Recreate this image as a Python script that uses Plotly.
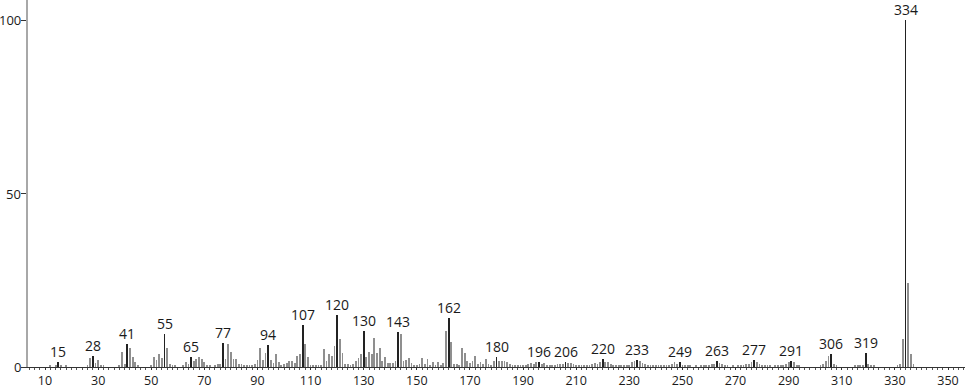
import plotly.graph_objects as go

# m/z values and relative intensities
mz = [12, 14, 15, 16, 18, 26, 27, 28, 29, 30, 31, 32,
      38, 39, 40, 41, 42, 43, 44, 45,
      50, 51, 52, 53, 54, 55, 56, 57, 58, 59,
      62, 63, 64, 65, 66, 67, 68, 69, 70, 71, 72,
      74, 75, 76, 77, 78, 79, 80, 81, 82, 83, 84, 85, 86, 87, 88, 89,
      90, 91, 92, 93, 94, 95, 96, 97, 98, 99, 100,
      101, 102, 103, 104, 105, 106, 107, 108, 109, 110, 111, 112, 113,
      114, 115, 116, 117, 118, 119, 120, 121, 122, 123, 124, 125,
      126, 127, 128, 129, 130, 131, 132, 133, 134, 135, 136, 137, 138, 139,
      140, 141, 142, 143, 144, 145, 146, 147, 148, 149,
      150, 151, 152, 153, 154, 155, 156, 157, 158, 159, 160, 161, 162, 163,
      164, 165, 166, 167, 168, 169, 170, 171, 172, 173, 174, 175, 176, 177,
      178, 179, 180, 181, 182, 183, 184, 185, 186, 187, 188, 189,
      190, 191, 192, 193, 194, 195, 196, 197, 198, 199, 200, 201, 202, 203,
      204, 205, 206, 207, 208, 209, 210, 211, 212, 213, 214, 215, 216, 217,
      218, 219, 220, 221, 222, 223, 224, 225, 226, 227, 228, 229, 230, 231,
      232, 233, 234, 235, 236, 237, 238, 239, 240, 241, 242, 243, 244, 245,
      246, 247, 248, 249, 250, 251, 252, 253, 255, 257, 258, 259, 260, 261,
      262, 263, 264, 265, 266, 267, 269, 271, 272, 273, 274, 275, 276, 277,
      278, 279, 280, 281, 282, 283, 285, 286, 287, 288, 289, 290, 291, 292,
      293, 294, 302, 303, 304, 305, 306, 307, 308, 315, 316, 317, 318, 319,
      320, 321, 322, 331, 332, 333, 334, 335, 336, 337]
intensity = [0.3, 0.5, 1.5, 0.3, 0.5, 0.5, 2.5, 3.3, 1.2, 2.0, 0.4, 0.3,
             0.4, 4.3, 0.8, 6.6, 5.5, 3.0, 1.5, 0.5,
             0.5, 2.9, 2.0, 3.7, 2.6, 9.5, 5.5, 1.0, 0.6, 0.3,
             0.4, 1.5, 0.8, 2.9, 1.7, 2.3, 2.8, 2.3, 1.3, 0.6, 0.3,
             0.4, 1.0, 1.0, 6.9, 2.3, 6.6, 4.3, 2.4, 2.4, 0.8, 0.8, 0.5, 0.5, 0.5, 0.4, 1.0,
             2.0, 5.5, 2.0, 4.1, 6.3, 2.0, 1.2, 3.7, 1.3, 0.6, 0.8,
             1.1, 1.7, 1.7, 1.2, 3.2, 3.7, 12.1, 6.6, 2.9, 0.6, 0.5, 0.5, 0.6,
             0.5, 5.2, 1.7, 3.7, 3.2, 6.1, 15.0, 8.0, 4.1, 0.8, 0.8, 0.6,
             1.0, 1.8, 2.7, 3.7, 10.5, 2.9, 4.4, 3.7, 8.3, 4.1, 5.4, 1.7, 2.9, 1.1,
             1.1, 1.1, 1.7, 10.2, 9.5, 1.7, 2.0, 2.7, 1.1, 0.5,
             0.6, 0.8, 2.5, 0.8, 2.2, 0.6, 1.5, 0.5, 1.5, 0.6, 1.1, 10.5, 14.1, 7.3,
             0.9, 0.9, 0.4, 5.4, 4.1, 1.8, 1.1, 1.7, 3.2, 1.0, 1.5, 0.8, 2.3, 1.0,
             0.7, 1.8, 2.9, 1.8, 1.8, 1.8, 1.5, 1.0, 0.5, 0.5, 0.3, 0.4,
             0.5, 0.6, 1.0, 1.2, 0.8, 1.4, 1.5, 1.0, 1.1, 0.6, 0.4, 0.5, 0.5, 0.9,
             1.0, 0.8, 1.4, 1.2, 1.2, 0.9, 0.6, 0.4, 0.3, 0.3, 0.5, 0.7, 0.9, 1.2,
             1.0, 1.5, 2.2, 1.4, 1.5, 1.0, 0.5, 0.3, 0.3, 0.3, 0.3, 0.5, 0.6, 1.4,
             1.8, 2.0, 1.8, 1.2, 0.8, 0.5, 0.3, 0.5, 0.3, 0.4, 0.3, 0.5, 0.6, 0.7,
             0.8, 1.3, 0.8, 1.5, 0.7, 0.4, 0.3, 0.3, 0.3, 0.3, 0.4, 0.5, 0.6, 0.8,
             1.0, 1.8, 1.2, 0.8, 0.4, 0.3, 0.3, 0.3, 0.4, 0.7, 0.8, 1.0, 1.5, 2.0,
             1.3, 0.8, 0.5, 0.4, 0.3, 0.3, 0.3, 0.4, 0.5, 0.6, 1.0, 1.5, 1.8, 1.5,
             0.6, 0.3, 0.3, 1.0, 1.8, 3.2, 3.7, 1.0, 0.3, 0.3, 0.4, 0.4, 0.5, 3.9,
             1.0, 0.5, 0.3, 0.3, 1.0, 8.1, 100.0, 24.2, 3.8, 1.0]

# Peaks carrying an m/z label
labeled_mz = [15, 28, 41, 55, 65, 77, 94, 107, 120, 130, 143, 162, 180, 196,
              206, 220, 233, 249, 263, 277, 291, 306, 319, 334]

x_tickvals = list(range(10, 351, 20))
y_tickvals = [0, 50, 100]

FONT = "Open Sans"
TXT = "#1a1a1a"

lookup = dict(zip(mz, intensity))
lab_set = set(labeled_mz)
plain_x = [m for m in mz if m not in lab_set]
plain_y = [lookup[m] for m in plain_x]
lab_y = [lookup[m] for m in labeled_mz]

fig = go.Figure()
fig.add_trace(go.Bar(x=plain_x, y=plain_y, width=0.3,
                     marker=dict(color="#8f8f8f", line=dict(width=0)),
                     hoverinfo="x+y"))
fig.add_trace(go.Bar(x=labeled_mz, y=lab_y, width=0.3,
                     marker=dict(color="#222222", line=dict(width=0)),
                     hoverinfo="x+y"))

# peak labels
for m, v in zip(labeled_mz, lab_y):
    fig.add_annotation(x=m, y=v, xref="x", yref="y", text=str(m),
                       showarrow=False, yanchor="bottom", yshift=0,
                       borderpad=0,
                       font=dict(family=FONT, size=14, color=TXT))

# y tick labels (placed as annotations so "100" fits left of the axis)
for v in y_tickvals:
    fig.add_annotation(x=0, y=v, xref="paper", yref="y", text=str(v),
                       showarrow=False, xanchor="right", xshift=-5,
                       font=dict(family=FONT, size=13, color=TXT))

fig.update_layout(
    width=966, height=389,
    margin=dict(l=28, r=1, t=0, b=22, autoexpand=False),
    paper_bgcolor="white", plot_bgcolor="white",
    showlegend=False, bargap=0,
    font=dict(family=FONT, size=12.5, color=TXT),
)
fig.update_xaxes(range=[3.6, 356.4], tickvals=x_tickvals, automargin=False,
                 showgrid=False, zeroline=False,
                 showline=True, linecolor="#333333", linewidth=1,
                 ticks="outside", ticklen=2, tickcolor="#333333",
                 minor=dict(dtick=2, tick0=0, ticks="outside", ticklen=2,
                            tickcolor="#555555", showgrid=False),
                 tickfont=dict(family=FONT, size=12.5, color=TXT))
fig.update_yaxes(range=[0, 105.8], tickvals=y_tickvals, automargin=False,
                 showticklabels=False,
                 showgrid=False, zeroline=False,
                 showline=True, linecolor="#a8a8a8", linewidth=2,
                 ticks="outside", ticklen=5, tickcolor="#333333")

fig.write_html("out.html")
